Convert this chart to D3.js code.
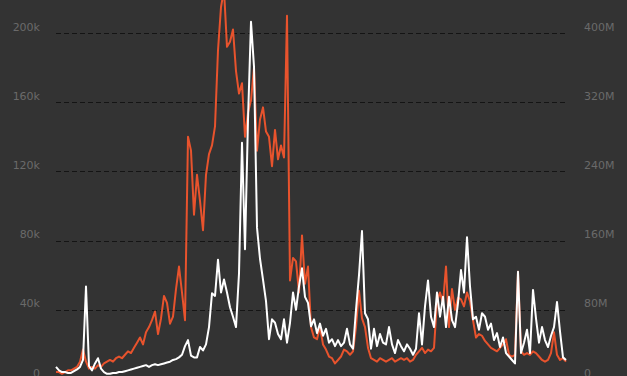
<!DOCTYPE html>
<html>
<head>
<meta charset="utf-8">
<script src="https://cdn.jsdelivr.net/npm/d3@7"></script>
<style>
  body { margin: 0; background: #333333; }
  svg { display: block; }
</style>
</head>
<body>
<div id="chart"></div>
<script>
// orange series, left axis (thousands)
var seriesLeft = [
  4,4,3,4,5,5,6,7,10,17,
  10,6,7,6,8,7,9,10,11,10,
  12,13,12,14,16,15,18,21,24,20,
  27,30,34,39,26,35,48,44,32,36,
  52,65,50,34,140,132,95,118,103,86,
  118,130,135,146,190,215,225,192,195,202,
  178,165,171,140,154,161,180,132,150,157,
  143,140,123,144,127,135,128,210,57,70,
  68,50,83,55,65,30,24,23,30,20,
  17,13,12,9,11,13,17,16,14,16,
  30,51,35,30,18,12,11,10,12,11,
  10,11,12,10,11,12,11,12,10,11,
  14,16,18,15,17,16,18,45,50,44,
  65,30,52,40,47,46,42,50,45,34,
  24,26,25,22,20,18,17,16,18,20,
  23,14,13,14,62,16,14,15,14,16,
  15,13,11,10,11,15,27,14,11,12,10
];

// white series, right axis (millions)
var seriesRight = [
  14,10,8,8,7,7,9,11,14,22,
  107,15,10,18,24,12,8,6,6,7,
  7,8,8,9,10,11,12,13,14,15,
  16,14,16,17,16,17,18,19,20,22,
  23,25,28,38,45,27,25,25,37,33,
  40,60,99,96,138,100,115,100,83,72,
  60,122,273,150,300,413,361,175,139,115,
  90,46,69,65,52,46,69,42,65,100,
  80,107,128,95,88,61,69,53,64,50,
  58,42,46,38,45,38,42,58,40,35,
  80,120,171,76,69,35,58,38,52,42,
  40,60,40,30,45,38,32,40,35,28,
  35,76,40,84,114,72,60,100,72,95,
  60,95,68,60,88,126,100,164,107,69,
  72,57,76,72,57,64,45,53,37,48,
  30,26,22,18,124,30,42,57,30,103,
  70,42,60,45,37,50,60,89,55,25,22
];

var leftTicks = [0, 40, 80, 120, 160, 200];
var rightTicks = [0, 80, 160, 240, 320, 400];

var width = 627, height = 376;
var plotLeft = 56, plotRight = 566, gridRight = 568;
var plotTop = 33, plotBottom = 379;

var svg = d3.select("#chart").append("svg")
  .attr("width", width)
  .attr("height", height);

var x = d3.scaleLinear()
  .domain([0, seriesLeft.length - 1])
  .range([plotLeft, plotRight]);

var yLeft = d3.scaleLinear().domain([0, 200]).range([plotBottom, plotTop]);
var yRight = d3.scaleLinear().domain([0, 400]).range([plotBottom, plotTop]);

// dashed grid
svg.append("g")
  .selectAll("line")
  .data(leftTicks.slice(1))
  .enter().append("line")
    .attr("x1", plotLeft)
    .attr("x2", gridRight)
    .attr("y1", function(d) { return Math.round(yLeft(d)) + 0.5; })
    .attr("y2", function(d) { return Math.round(yLeft(d)) + 0.5; })
    .attr("stroke", "#141414")
    .attr("stroke-width", 1)
    .attr("stroke-dasharray", "5,3");

// left axis
var axL = svg.append("g")
  .attr("transform", "translate(40,0)")
  .call(d3.axisLeft(yLeft).tickValues(leftTicks).tickSize(0).tickPadding(0)
    .tickFormat(function(d) { return d === 0 ? "0" : d + "k"; }));
axL.select(".domain").remove();

// right axis
var axR = svg.append("g")
  .attr("transform", "translate(584,0)")
  .call(d3.axisRight(yRight).tickValues(rightTicks).tickSize(0).tickPadding(0)
    .tickFormat(function(d) { return d === 0 ? "0" : d + "M"; }));
axR.select(".domain").remove();

svg.selectAll(".tick text")
  .attr("fill", "#6a6a6a")
  .attr("font-family", "DejaVu Sans")
  .attr("font-size", 11)
  .attr("dy", "-3px");

var lineLeft = d3.line()
  .x(function(d, i) { return x(i); })
  .y(function(d) { return yLeft(d); });

var lineRight = d3.line()
  .x(function(d, i) { return x(i); })
  .y(function(d) { return yRight(d); });

svg.append("path")
  .datum(seriesLeft)
  .attr("d", lineLeft)
  .attr("fill", "none")
  .attr("stroke", "#e8532d")
  .attr("stroke-width", 2)
  .attr("stroke-linejoin", "round");

svg.append("path")
  .datum(seriesRight)
  .attr("d", lineRight)
  .attr("fill", "none")
  .attr("stroke", "#ffffff")
  .attr("stroke-width", 2)
  .attr("stroke-linejoin", "round");
</script>
</body>
</html>
